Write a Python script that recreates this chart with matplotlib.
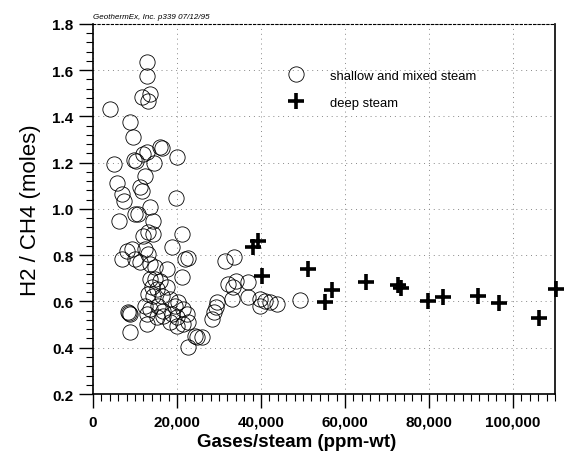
import matplotlib
matplotlib.use("Agg")
import matplotlib.pyplot as plt
from matplotlib.ticker import MultipleLocator, FuncFormatter

plt.rcParams['font.family'] = ['Liberation Sans', 'DejaVu Sans']

# shallow and mixed steam (x in ppm-wt, y = H2/CH4 moles)
shallow_x = [12900, 12900, 11700, 13600, 13100, 4000, 8800, 9500, 16000, 16400,
             12900, 20000, 9800, 10300, 14500, 11900, 5000, 12400, 5700, 11200,
             11700, 6900, 7400, 19800, 13600, 6200, 10000, 10700, 14300, 11900,
             13100, 14300, 21200, 18800, 8100, 9300, 6900, 10000, 11200, 12400,
             13100, 21900, 22600, 13600, 14800, 17600, 21200, 13600, 14800, 16000,
             14000, 15200, 17600, 13100, 14300, 16400, 18300, 8300, 8800, 8500,
             12400, 13600, 12900, 15500, 16700, 19500, 20200, 21400, 22400, 18800,
             20000, 16700, 15200, 12900, 18300, 20000, 21400, 22600, 8800, 24300,
             24800, 22600, 25900, 28300, 28800, 29300, 29500, 31400, 33600, 32100,
             33300, 34000, 36900, 33100, 36900, 39800, 41000, 42100, 43800, 39800,
             49300]
shallow_y = [1.636, 1.575, 1.484, 1.497, 1.467, 1.432, 1.376, 1.311, 1.268, 1.262,
             1.246, 1.225, 1.212, 1.206, 1.199, 1.238, 1.195, 1.144, 1.113, 1.096,
             1.078, 1.065, 1.035, 1.048, 1.009, 0.948, 0.978, 0.978, 0.948, 0.883,
             0.901, 0.892, 0.892, 0.836, 0.818, 0.827, 0.784, 0.784, 0.771, 0.827,
             0.805, 0.784, 0.788, 0.762, 0.749, 0.741, 0.706, 0.697, 0.697, 0.689,
             0.663, 0.654, 0.663, 0.632, 0.624, 0.624, 0.611, 0.555, 0.546, 0.550,
             0.580, 0.567, 0.546, 0.580, 0.559, 0.580, 0.598, 0.567, 0.546, 0.546,
             0.533, 0.537, 0.533, 0.503, 0.511, 0.494, 0.503, 0.511, 0.468, 0.451,
             0.446, 0.403, 0.446, 0.524, 0.554, 0.576, 0.598, 0.775, 0.792, 0.676,
             0.663, 0.689, 0.684, 0.611, 0.619, 0.611, 0.602, 0.598, 0.589, 0.580,
             0.606]

# deep steam
deep_x = [38100, 39300, 40200, 51200, 56900, 55200, 65000, 72600, 73300, 79800,
          83300, 91700, 96700, 106200, 110300]
deep_y = [0.836, 0.862, 0.710, 0.741, 0.650, 0.598, 0.684, 0.671, 0.658, 0.602,
          0.619, 0.624, 0.593, 0.529, 0.654]

fig = plt.figure(figsize=(5.64, 4.60), dpi=100)
ax = fig.add_axes([0.165, 0.1413, 0.819, 0.8044])

ax.plot(shallow_x, shallow_y, linestyle='none', marker='o', ms=11,
        mfc='none', mec='black', mew=0.6, label='shallow and mixed steam')
ax.plot(deep_x, deep_y, linestyle='none', marker='+', ms=11,
        mec='black', mew=2.6, label='deep steam', clip_on=False)

ax.set_xlim(0, 110000)
ax.set_ylim(0.2, 1.8)

ax.xaxis.set_major_locator(MultipleLocator(20000))
ax.xaxis.set_minor_locator(MultipleLocator(2000))
ax.yaxis.set_major_locator(MultipleLocator(0.2))
ax.yaxis.set_minor_locator(MultipleLocator(0.04))
ax.xaxis.set_major_formatter(FuncFormatter(lambda v, p: f"{int(v):,}"))
ax.yaxis.set_major_formatter(FuncFormatter(lambda v, p: f"{v:.1f}"))

ax.tick_params(axis='both', which='major', direction='out', length=10,
               width=1.0, labelsize=11, pad=4)
ax.tick_params(axis='both', which='minor', direction='out', length=5, width=0.8)
ax.tick_params(axis='x', which='major', pad=5)
for lab in ax.get_xticklabels() + ax.get_yticklabels():
    lab.set_fontweight('bold')

ax.grid(True, which='major', linestyle=(0, (1, 4)), color='#888888', linewidth=0.7)

for s in ['left', 'bottom', 'right']:
    ax.spines[s].set_linewidth(1.2)
ax.spines['top'].set_linestyle((0, (2, 2)))
ax.spines['top'].set_linewidth(0.8)

ax.set_xlabel('Gases/steam (ppm-wt)', fontsize=13.5, fontweight='bold', labelpad=0)
ax.xaxis.set_label_coords(0.44, -0.105)
ax.set_ylabel('H2 / CH4 (moles)', fontsize=16, labelpad=8)

ax.text(0.0, 1.012, 'GeothermEx, Inc. p339 07/12/95', transform=ax.transAxes,
        fontsize=5.8, style='italic', ha='left', va='bottom')

leg = ax.legend(loc='upper left', bbox_to_anchor=(0.40, 0.89), frameon=False,
                fontsize=9.4, handletextpad=1.6, labelspacing=1.1,
                borderaxespad=0)

fig.savefig('out.png', dpi=100)
